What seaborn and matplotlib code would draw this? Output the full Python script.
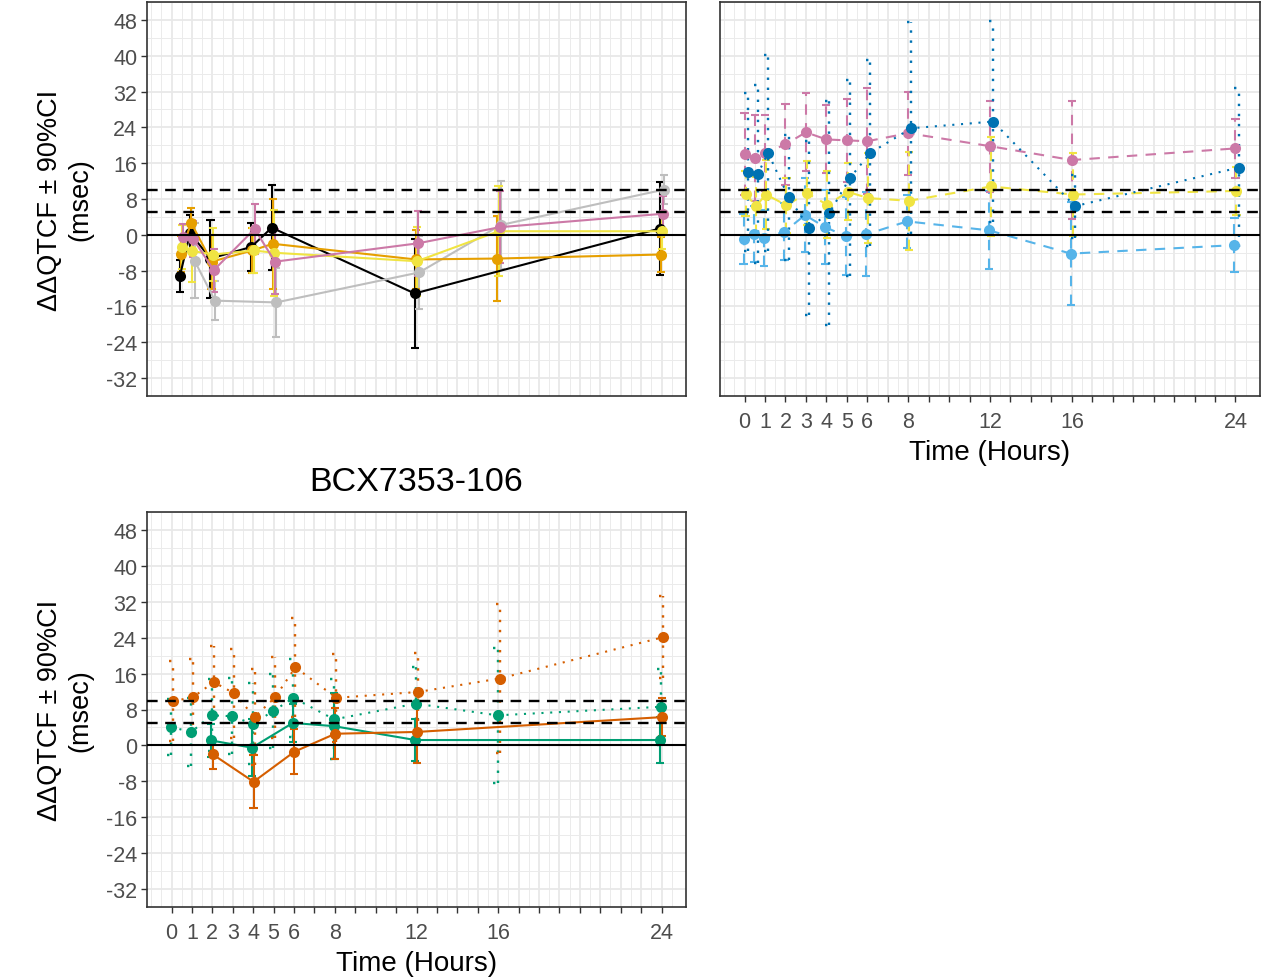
import numpy as np
import pandas as pd
import matplotlib
matplotlib.use("Agg")
import matplotlib.pyplot as plt
import seaborn as sns

sns.set_theme(style="white")
plt.rcParams["font.family"] = ["Liberation Sans", "DejaVu Sans"]

# ---------------- data ----------------
# Top-left panel (solid lines)
tl_series = ["Black", "Grey", "Orange", "Yellow", "Pink"]
tl_black_t = [0.5, 1, 2, 4, 5, 12, 24]
tl_black_m = [-9.2, 0.4, -5.3, -2.7, 1.6, -13.1, 1.4]
tl_black_h = [3.6, 4.0, 8.7, 5.4, 9.5, 12.2, 10.3]
tl_grey_t = [1, 2, 5, 12, 16, 24]
tl_grey_m = [-5.8, -14.7, -15.1, -8.4, 2.2, 10.1]
tl_grey_h = [8.4, 4.3, 7.8, 8.2, 9.9, 3.3]
tl_orange_t = [0.5, 1, 2, 4, 5, 12, 16, 24]
tl_orange_m = [-4.2, 2.7, -6.0, -3.5, -2.0, -5.5, -5.3, -4.4]
tl_orange_h = [4.0, 3.3, 6.0, 5.0, 10.0, 6.5, 9.4, 4.0]
tl_yellow_t = [0.5, 1, 2, 4, 5, 12, 16, 24]
tl_yellow_m = [-2.7, -3.6, -4.4, -3.5, -4.0, -5.9, 0.8, 0.8]
tl_yellow_h = [5.0, 7.0, 6.0, 5.0, 9.6, 7.7, 10.1, 4.0]
tl_pink_t = [0.5, 1, 2, 4, 5, 12, 16, 24]
tl_pink_m = [-0.5, -1.0, -7.9, 1.3, -6.0, -1.9, 1.7, 4.7]
tl_pink_h = [3.0, 4.0, 4.8, 5.6, 7.3, 7.2, 8.0, 4.0]

# Top-right panel
tr_times = [0, 0.5, 1, 2, 3, 4, 5, 6, 8, 12, 16, 24]
tr_series = ["LightBlue", "Pink", "Yellow", "DarkBlue"]
tr_pink_m = [18.0, 17.1, 18.2, 20.2, 22.9, 21.3, 21.1, 20.9, 22.7, 19.8, 16.7, 19.3]
tr_pink_h = [9.1, 9.6, 8.5, 9.1, 8.7, 7.6, 9.3, 11.8, 9.3, 10.2, 13.1, 6.5]
tr_dblue_m = [14.0, 13.6, 18.3, 8.4, 1.6, 4.9, 12.7, 18.3, 23.8, 25.3, 6.4, 15.0]
tr_dblue_h = [17.6, 19.8, 21.9, 14.0, 19.4, 25.1, 21.8, 20.7, 23.7, 22.5, 7.0, 17.7]
tr_yellow_m = [9.2, 6.4, 9.0, 6.6, 9.3, 6.7, 9.6, 8.2, 7.6, 10.8, 9.0, 9.8]
tr_yellow_h = [5.0, 6.5, 7.8, 6.1, 7.1, 7.5, 6.4, 10.0, 11.0, 11.0, 9.3, 5.3]
tr_lblue_m = [-1.0, 0.2, -0.7, 0.7, 4.4, 1.7, -0.3, 0.1, 3.0, 1.0, -4.2, -2.3]
tr_lblue_h = [5.6, 6.2, 6.3, 6.4, 8.2, 8.3, 8.7, 9.4, 6.0, 8.7, 11.5, 6.0]

# Bottom-left panel (BCX7353-106)
bl_series = ["GreenDot", "GreenSolid", "VermSolid", "VermDot"]
bl_solid_t = [2, 4, 6, 8, 12, 24]
bl_dot_t = [0, 1, 2, 3, 4, 5, 6, 8, 12, 16, 24]
bl_vsolid_m = [-2.0, -8.1, -1.4, 2.6, 3.0, 6.3]
bl_vsolid_h = [3.3, 5.9, 5.0, 5.7, 7.0, 4.3]
bl_vdot_m = [9.8, 10.8, 14.1, 11.6, 6.3, 10.7, 17.4, 10.6, 11.9, 14.9, 24.1]
bl_vdot_h = [8.9, 8.5, 8.1, 9.9, 10.7, 9.1, 11.0, 9.8, 8.7, 16.7, 9.1]
bl_gsolid_m = [1.1, -0.5, 5.0, 4.3, 1.2, 1.2]
bl_gsolid_h = [3.6, 6.3, 4.2, 7.4, 4.7, 5.2]
bl_gdot_m = [4.1, 3.0, 6.7, 6.5, 4.8, 7.6, 10.6, 5.8, 9.3, 6.7, 8.6]
bl_gdot_h = [6.3, 7.6, 8.0, 8.5, 9.0, 8.2, 8.7, 8.9, 8.2, 15.0, 8.4]

y_ticks = [-32, -24, -16, -8, 0, 8, 16, 24, 32, 40, 48]
x_label_ticks = [0, 1, 2, 3, 4, 5, 6, 8, 12, 16, 24]
ref_solid = [0]
ref_dashed = [5, 10]

# ---------------- styles ----------------
LW = 1.5
SOLID = ""
DASH = (5, 4)
DOT = (1, 3.2)

tl_style = {
    "Black": ("#000000", SOLID, -0.09),
    "Grey": ("#BEBEBE", SOLID, 0.13),
    "Orange": ("#E69F00", SOLID, -0.04),
    "Yellow": ("#F0E442", SOLID, 0.02),
    "Pink": ("#CC79A7", SOLID, 0.07),
}
tr_style = {
    "LightBlue": ("#56B4E9", DASH, -0.05),
    "Pink": ("#CC79A7", DASH, 0.0),
    "Yellow": ("#F0E442", DASH, 0.05),
    "DarkBlue": ("#0072B2", DOT, 0.15),
}
bl_style = {
    "GreenDot": ("#009E73", DOT, -0.03),
    "GreenSolid": ("#009E73", SOLID, -0.06),
    "VermSolid": ("#D55E00", SOLID, 0.02),
    "VermDot": ("#D55E00", DOT, 0.07),
}

tl_data = {
    "Black": (tl_black_t, tl_black_m, tl_black_h),
    "Grey": (tl_grey_t, tl_grey_m, tl_grey_h),
    "Orange": (tl_orange_t, tl_orange_m, tl_orange_h),
    "Yellow": (tl_yellow_t, tl_yellow_m, tl_yellow_h),
    "Pink": (tl_pink_t, tl_pink_m, tl_pink_h),
}
tr_data = {
    "LightBlue": (tr_times, tr_lblue_m, tr_lblue_h),
    "Pink": (tr_times, tr_pink_m, tr_pink_h),
    "Yellow": (tr_times, tr_yellow_m, tr_yellow_h),
    "DarkBlue": (tr_times, tr_dblue_m, tr_dblue_h),
}
bl_data = {
    "GreenDot": (bl_dot_t, bl_gdot_m, bl_gdot_h),
    "GreenSolid": (bl_solid_t, bl_gsolid_m, bl_gsolid_h),
    "VermSolid": (bl_solid_t, bl_vsolid_m, bl_vsolid_h),
    "VermDot": (bl_dot_t, bl_vdot_m, bl_vdot_h),
}


def ls_tuple(d):
    if d == SOLID:
        return "solid"
    return (0, d)


def draw_panel(ax, order, data, style):
    rows = []
    for name in order:
        t, m, h = data[name]
        off = style[name][2]
        for ti, mi, hi in zip(t, m, h):
            rows.append({"series": name, "x": ti + off, "value": mi,
                         "lo": mi - hi, "hi": mi + hi})
    df = pd.DataFrame(rows)
    palette = {k: style[k][0] for k in order}
    dashes = {k: style[k][1] for k in order}
    markers = {k: "o" for k in order}
    # error bars
    cap = 0.2
    for name in order:
        sub = df[df.series == name]
        col, d, _ = style[name]
        ls = ls_tuple(d)
        lw = LW * 1.15 if d == DOT else LW
        ax.vlines(sub.x, sub.lo, sub.hi, colors=col, linestyles=ls, lw=lw, zorder=2)
        ax.hlines(sub.lo, sub.x - cap, sub.x + cap, colors=col, linestyles=ls, lw=lw, zorder=2)
        ax.hlines(sub.hi, sub.x - cap, sub.x + cap, colors=col, linestyles=ls, lw=lw, zorder=2)
    sns.lineplot(data=df, x="x", y="value", hue="series", style="series",
                 hue_order=order, style_order=order, palette=palette,
                 dashes=dashes, markers=markers, markersize=8,
                 markeredgewidth=0, lw=LW, legend=False, ax=ax,
                 estimator=None, sort=True, zorder=3)
    for y in ref_solid:
        ax.axhline(y, color="black", lw=1.5, zorder=4)
    for y in ref_dashed:
        ax.axhline(y, color="black", lw=1.7, ls=(0, (4.5, 3.2)), zorder=4)


def style_axes(ax, show_x, show_y):
    ax.set_xlim(-1.2, 25.2)
    ax.set_ylim(-35.6, 52)
    ax.set_xticks(list(range(0, 25)))
    ax.set_xticks(list(np.arange(0.5, 25, 1.0)) + [-0.5, -1.0], minor=True)
    ax.set_yticks(y_ticks)
    ax.set_yticks(list(np.arange(-36, 53, 8)), minor=True)
    ax.grid(which="major", color="#E8E8E8", lw=1.3, zorder=0)
    ax.grid(which="minor", color="#EBEBEB", lw=0.7, zorder=0)
    ax.set_axisbelow(True)
    ax.tick_params(which="minor", length=0)
    for sp in ax.spines.values():
        sp.set_color("#333333")
        sp.set_linewidth(1.2)
        sp.set_visible(True)
    if show_x:
        ax.set_xticklabels([str(i) if i in x_label_ticks else "" for i in range(0, 25)])
        ax.tick_params(axis="x", which="major", length=4, width=1.0, color="#333333",
                       labelsize=15.5, labelcolor="#4D4D4D", pad=7, bottom=True)
        ax.set_xlabel("Time (Hours)", fontsize=20, color="black", labelpad=5)
    else:
        ax.set_xticklabels([])
        ax.tick_params(axis="x", which="major", length=0)
        ax.set_xlabel("")
    if show_y:
        ax.set_yticklabels([str(v) for v in y_ticks])
        ax.tick_params(axis="y", which="major", length=4, width=1.0, color="#333333",
                       labelsize=15.5, labelcolor="#4D4D4D", pad=3, left=True)
        ax.set_ylabel("\u0394\u0394QTCF \u00b1 90%CI\n(msec)", fontsize=19.5,
                      color="black", labelpad=9, linespacing=1.25)
    else:
        ax.set_yticklabels([])
        ax.tick_params(axis="y", which="major", length=0)
        ax.set_ylabel("")


fig = plt.figure(figsize=(12.65, 9.79), dpi=100)
ax_tl = fig.add_axes([147 / 1265, 1 - 397 / 979, 539 / 1265, 394 / 979])
ax_tr = fig.add_axes([720 / 1265, 1 - 397 / 979, 540 / 1265, 394 / 979])
ax_bl = fig.add_axes([147 / 1265, 1 - 908 / 979, 539 / 1265, 395 / 979])

draw_panel(ax_tl, tl_series, tl_data, tl_style)
style_axes(ax_tl, show_x=False, show_y=True)

draw_panel(ax_tr, tr_series, tr_data, tr_style)
style_axes(ax_tr, show_x=True, show_y=False)

draw_panel(ax_bl, bl_series, bl_data, bl_style)
style_axes(ax_bl, show_x=True, show_y=True)
ax_bl.set_title("BCX7353-106", fontsize=24.5, color="black", pad=16)

fig.savefig("out.png", dpi=100)
